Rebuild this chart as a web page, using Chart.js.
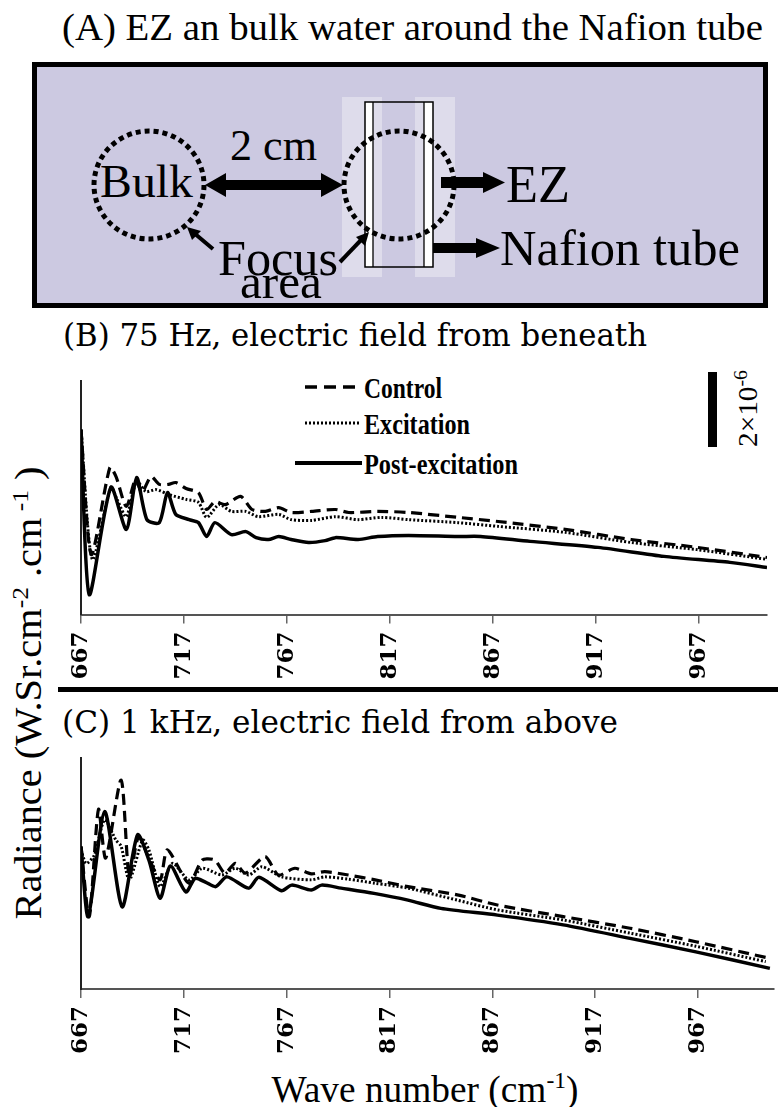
<!DOCTYPE html>
<html>
<head>
<meta charset="utf-8">
<script src="https://cdn.jsdelivr.net/npm/chart.js@4.4.1/dist/chart.umd.min.js"></script>
<style>
  html, body { margin:0; padding:0; background:#fff; }
  body { width:778px; height:1107px; position:relative; overflow:hidden; }
  svg.overlay { position:absolute; left:0; top:0; }
  .cwrap { position:absolute; left:0; }
  canvas { display:block; }
  .tm { font-family: 'Liberation Serif', 'Times New Roman', Tinos, Times, serif; }
  .dv { font-family: 'DejaVu Serif', serif; }
</style>
</head>
<body>
<svg class="overlay" width="778" height="1107" xmlns="http://www.w3.org/2000/svg">
  <!-- Panel A title -->
  <text class="tm" x="62" y="40" font-size="38" textLength="701" lengthAdjust="spacingAndGlyphs">(A) EZ an bulk water around the Nafion tube</text>
  <!-- Panel A diagram -->
  <rect x="34.5" y="64.5" width="731" height="241" fill="#CCC9E1" stroke="#000" stroke-width="5"/>
  <rect x="342" y="97" width="40" height="180" fill="#fff" fill-opacity="0.35"/>
  <rect x="415" y="97" width="40" height="180" fill="#fff" fill-opacity="0.35"/>
  <rect x="365" y="102" width="8" height="165" fill="#fff"/>
  <rect x="424" y="102" width="9" height="165" fill="#fff"/>
  <rect x="365" y="102" width="68" height="165" fill="none" stroke="#000" stroke-width="1.5"/>
  <line x1="373" y1="102" x2="373" y2="267" stroke="#000" stroke-width="1.3"/>
  <line x1="424" y1="102" x2="424" y2="267" stroke="#000" stroke-width="1.3"/>
  <ellipse cx="149" cy="185" rx="55" ry="54" fill="none" stroke="#000" stroke-width="5" stroke-dasharray="5 4"/>
  <ellipse cx="399" cy="185" rx="55" ry="54" fill="none" stroke="#000" stroke-width="5" stroke-dasharray="5 4"/>
  <text class="tm" x="100" y="197" font-size="46" textLength="93" lengthAdjust="spacingAndGlyphs">Bulk</text>
  <text class="tm" x="230" y="160" font-size="44" textLength="87" lengthAdjust="spacingAndGlyphs">2 cm</text>
  <polygon points="205,185 226,173 226,180 321,180 321,173 343,185 321,197 321,190 226,190 226,197" fill="#000"/>
  <text class="tm" x="218" y="275" font-size="50" textLength="120" lengthAdjust="spacingAndGlyphs">Focus</text>
  <text class="tm" x="240" y="298" font-size="49" textLength="82" lengthAdjust="spacingAndGlyphs">area</text>
  <line x1="213" y1="249" x2="194" y2="233" stroke="#000" stroke-width="4"/>
  <polygon points="187,227 201,231 192,240" fill="#000"/>
  <line x1="340" y1="262" x2="362" y2="239" stroke="#000" stroke-width="4"/>
  <polygon points="369,232 365,246 356,237" fill="#000"/>
  <polygon points="441,177 483,177 483,172 505,182.5 483,193 483,188 441,188" fill="#000"/>
  <text class="tm" x="506" y="202" font-size="53" textLength="64" lengthAdjust="spacingAndGlyphs">EZ</text>
  <polygon points="433,243 476,243 476,238 500,248 476,258 476,253 433,253" fill="#000"/>
  <text class="tm" x="500" y="265" font-size="50" textLength="240" lengthAdjust="spacingAndGlyphs">Nafion tube</text>

  <!-- Panel titles -->
  <text class="dv" x="63" y="346" font-size="31" textLength="584" lengthAdjust="spacingAndGlyphs">(B) 75 Hz, electric field from beneath</text>
  <text class="dv" x="62" y="733" font-size="31" textLength="556" lengthAdjust="spacingAndGlyphs">(C) 1 kHz, electric field from above</text>

  <!-- separator -->
  <rect x="58" y="687" width="720" height="5" fill="#000"/>

  <!-- shared y-axis title -->
  <text class="tm" transform="translate(41,693) rotate(-90)" text-anchor="middle" font-size="38" textLength="453" lengthAdjust="spacingAndGlyphs">Radiance (W.Sr.cm<tspan dy="-13" font-size="24">-2</tspan><tspan dy="13"> .cm</tspan><tspan dy="-13" font-size="24"> -1</tspan><tspan dy="13"> )</tspan></text>

  <!-- x-axis title for C -->
  <text class="tm" x="425" y="1102" text-anchor="middle" font-size="38" textLength="307" lengthAdjust="spacingAndGlyphs">Wave number (cm<tspan dy="-14" font-size="24">-1</tspan><tspan dy="14">)</tspan></text>

  <!-- legend of B -->
  <line x1="305" y1="387" x2="362" y2="387" stroke="#000" stroke-width="3.5" stroke-dasharray="12 7"/>
  <text class="tm" x="364" y="398" font-weight="bold" font-size="30" textLength="78" lengthAdjust="spacingAndGlyphs">Control</text>
  <line x1="305" y1="423" x2="360" y2="423" stroke="#000" stroke-width="3" stroke-dasharray="2 2"/>
  <text class="tm" x="364" y="434" font-weight="bold" font-size="30" textLength="106" lengthAdjust="spacingAndGlyphs">Excitation</text>
  <line x1="295" y1="463" x2="362" y2="463" stroke="#000" stroke-width="4"/>
  <text class="tm" x="364" y="474" font-weight="bold" font-size="30" textLength="154" lengthAdjust="spacingAndGlyphs">Post-excitation</text>

  <!-- scale bar label -->
  <text class="tm" transform="translate(757,447) rotate(-90)" font-size="28" textLength="77" lengthAdjust="spacingAndGlyphs">2×10<tspan dy="-10" font-size="19">-6</tspan></text>
</svg>

<div class="cwrap" style="top:370px;"><canvas id="chartB" width="778" height="318"></canvas></div>
<div class="cwrap" style="top:745px;"><canvas id="chartC" width="778" height="320"></canvas></div>

<script>
// ---- Tick labels (wave number, cm^-1) ----
const tickValues = [667, 717, 767, 817, 867, 917, 967];

// ---- Scale bar value (units of 10^-6 W.Sr.cm^-2.cm^-1) ----
const scaleBarValue = 2;

// ---- Panel B: 75 Hz, electric field from beneath (radiance in 10^-6 units) ----
const bControlWn = [667, 672, 681, 684, 689, 693.5, 696.5, 701, 705, 709.5, 713, 718, 724, 728, 732, 737, 744.5, 750, 756.5, 763, 769, 779, 790.5, 797, 811, 826, 850, 869.5, 902, 934, 966, 1000];
const bControlVal = [4.93, 1.6, 3.92, 3.68, 2.88, 3.6, 3.25, 3.68, 3.47, 3.47, 3.52, 3.36, 3.25, 2.8, 3.01, 2.93, 3.15, 2.8, 2.75, 2.85, 2.72, 2.75, 2.8, 2.72, 2.75, 2.72, 2.59, 2.48, 2.27, 2.0, 1.79, 1.52];

const bExcitWn = [667, 672.5, 681.5, 684.5, 689, 694, 698.5, 703.5, 709.5, 718, 724, 728, 734, 740, 747, 753, 763, 769, 779, 790.5, 801.5, 813, 826, 850, 869.5, 902, 934, 966, 1000];
const bExcitVal = [4.93, 1.47, 3.39, 3.07, 2.61, 3.55, 3.28, 3.33, 3.2, 3.07, 2.99, 2.59, 2.93, 2.75, 2.75, 2.61, 2.67, 2.53, 2.51, 2.61, 2.53, 2.59, 2.53, 2.45, 2.35, 2.19, 1.92, 1.73, 1.47];

const bPostWn = [667, 671, 681.5, 689, 694, 699, 705, 709, 713, 719.5, 724, 728, 732, 740, 747, 752, 758, 763, 769, 777.5, 785.5, 790.5, 801.5, 811, 826, 850, 861, 885, 918, 950, 982, 1000];
const bPostVal = [4.93, 0.53, 3.39, 2.27, 3.65, 2.53, 2.45, 3.25, 2.67, 2.53, 2.45, 2.08, 2.45, 2.13, 2.21, 2.05, 2.0, 2.08, 2.0, 1.92, 1.97, 2.05, 2.0, 2.08, 2.11, 2.08, 2.08, 1.95, 1.79, 1.55, 1.39, 1.25];

// ---- Panel C: 1 kHz, electric field from above ----
const cControlWn = [667, 671, 675.5, 679, 686.5, 690.5, 695, 700, 705.5, 709, 719.5, 726, 732, 737, 742, 747, 756.5, 763, 771, 779, 785.5, 797, 810, 826, 850, 869.5, 901.5, 934, 966, 1001];
const cControlVal = [3.81, 1.93, 4.79, 3.49, 5.57, 2.99, 4.06, 3.49, 2.91, 3.71, 2.82, 3.44, 3.44, 3.09, 3.35, 3.09, 3.53, 3.04, 3.22, 3.07, 3.13, 3.04, 2.91, 2.73, 2.51, 2.24, 1.93, 1.62, 1.26, 0.83];

const cExcitWn = [667, 669.5, 673.5, 678.5, 684, 686.5, 690.5, 697, 700, 705.5, 711.5, 719.5, 726, 735.5, 742, 748.5, 755, 764.5, 779, 785.5, 797, 810, 826, 850, 869.5, 901.5, 934, 966, 1000];
const cExcitVal = [3.71, 3.35, 3.57, 4.51, 3.97, 3.81, 2.91, 3.97, 3.71, 2.73, 3.35, 2.91, 3.22, 3.04, 3.22, 3.04, 3.26, 2.99, 2.91, 2.99, 2.93, 2.82, 2.69, 2.37, 2.11, 1.84, 1.49, 1.14, 0.73];

const cPostWn = [667, 670.5, 678.5, 687, 694.5, 700, 705.5, 710.5, 718, 722.5, 727.5, 732.5, 738, 748.5, 753.5, 764.5, 769.5, 779, 784, 793.5, 809.5, 826, 842, 869.5, 901.5, 934, 966, 1002];
const cPostVal = [3.79, 1.93, 4.73, 2.19, 4.11, 3.44, 2.42, 3.28, 2.59, 2.95, 2.85, 2.73, 2.99, 2.69, 2.98, 2.62, 2.77, 2.64, 2.77, 2.69, 2.55, 2.37, 2.15, 1.97, 1.71, 1.35, 0.99, 0.55];

const seriesLabels = ['Control', 'Excitation', 'Post-excitation'];

function pts(xs, ys) { return xs.map((x, i) => ({ x: x, y: ys[i] })); }

function datasets(ctrl, exc, post) {
  return [
    { label: seriesLabels[0], data: ctrl, borderColor: '#000', borderWidth: 3.2, borderDash: [11, 6], pointRadius: 0, tension: 0.25, fill: false },
    { label: seriesLabels[1], data: exc, borderColor: '#000', borderWidth: 3, borderDash: [2, 2], pointRadius: 0, tension: 0.25, fill: false },
    { label: seriesLabels[2], data: post, borderColor: '#000', borderWidth: 3.5, pointRadius: 0, tension: 0.25, fill: false }
  ];
}

const scaleBarPlugin = {
  id: 'scaleBar',
  afterDraw(chart) {
    const y = chart.scales.y;
    const h = y.getPixelForValue(0) - y.getPixelForValue(scaleBarValue);
    const ctx = chart.ctx;
    ctx.save();
    ctx.fillStyle = '#000';
    ctx.fillRect(708, chart.chartArea.top - 9, 9, h);
    ctx.restore();
  }
};

function makeChart(id, ds, xmax, ymax, padTop, padRight, xAxisH, plugins) {
  return new Chart(document.getElementById(id), {
    type: 'line',
    data: { datasets: ds },
    plugins: plugins,
    options: {
      responsive: false,
      animation: false,
      layout: { padding: { left: 0, top: padTop, right: padRight, bottom: 0 } },
      plugins: { legend: { display: false }, tooltip: { enabled: false }, title: { display: false } },
      scales: {
        x: {
          type: 'linear', min: 667, max: xmax,
          afterBuildTicks: (s) => { s.ticks = tickValues.map(v => ({ value: v })); },
          afterFit: (s) => { s.height = xAxisH; },
          ticks: {
            autoSkip: false, minRotation: 90, maxRotation: 90, padding: 8,
            color: '#000', font: { family: 'DejaVu Serif', weight: 'bold', size: 23 },
            callback: (v) => String(v)
          },
          grid: { drawOnChartArea: false, drawTicks: true, tickLength: 9, color: '#666', lineWidth: 1.5 },
          border: { display: true, color: '#555', width: 2 }
        },
        y: {
          min: 0, max: ymax,
          afterFit: (s) => { s.width = 81; },
          ticks: { display: false },
          grid: { display: false },
          border: { display: true, color: '#222', width: 2 }
        }
      }
    }
  });
}

makeChart('chartB', datasets(pts(bControlWn, bControlVal), pts(bExcitWn, bExcitVal), pts(bPostWn, bPostVal)), 1000, 6.227, 11, 11, 73.5, [scaleBarPlugin]);
makeChart('chartC', datasets(pts(cControlWn, cControlVal), pts(cExcitWn, cExcitVal), pts(cPostWn, cPostVal)), 1004, 6.16, 13, 4, 76, []);
</script>
</body>
</html>
